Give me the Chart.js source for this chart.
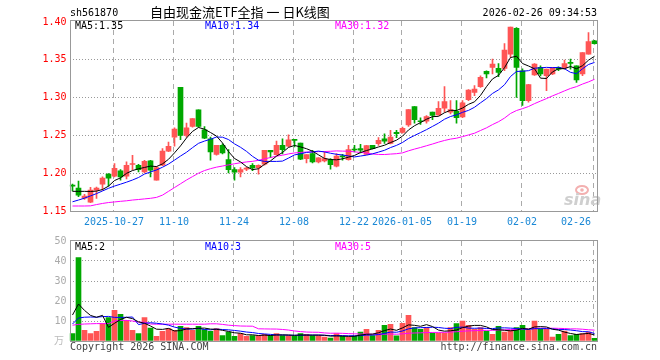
<!DOCTYPE html>
<html>
<head>
<meta charset="utf-8">
<script src="https://cdn.jsdelivr.net/npm/chart.js@4"></script>
<style>
html, body { margin: 0; padding: 0; background: #fff; }
#wrap { position: relative; width: 660px; height: 360px; }
canvas { position: absolute; left: 0; }
#kline { top: 0; }
#vol { top: 232px; }
</style>
</head>
<body>
<div id="wrap">
  <canvas id="kline" width="660" height="232"></canvas>
  <canvas id="vol" width="660" height="128"></canvas>
</div>
<script>
// trading days shown on the chart
const dates = [
  '2025-10-16','2025-10-17','2025-10-20','2025-10-21','2025-10-22','2025-10-23','2025-10-24','2025-10-27','2025-10-28','2025-10-29','2025-10-30','2025-10-31',
  '2025-11-03','2025-11-04','2025-11-05','2025-11-06','2025-11-07','2025-11-10','2025-11-11','2025-11-12','2025-11-13','2025-11-14','2025-11-17','2025-11-18','2025-11-19','2025-11-20','2025-11-21','2025-11-24','2025-11-25','2025-11-26','2025-11-27','2025-11-28',
  '2025-12-01','2025-12-02','2025-12-03','2025-12-04','2025-12-05','2025-12-08','2025-12-09','2025-12-10','2025-12-11','2025-12-12','2025-12-15','2025-12-16','2025-12-17','2025-12-18','2025-12-19','2025-12-22','2025-12-23','2025-12-24','2025-12-25','2025-12-26','2025-12-29','2025-12-30','2025-12-31',
  '2026-01-05','2026-01-06','2026-01-07','2026-01-08','2026-01-09','2026-01-12','2026-01-13','2026-01-14','2026-01-15','2026-01-16','2026-01-19','2026-01-20','2026-01-21','2026-01-22','2026-01-23','2026-01-26','2026-01-27','2026-01-28','2026-01-29','2026-01-30',
  '2026-02-02','2026-02-03','2026-02-04','2026-02-05','2026-02-06','2026-02-09','2026-02-10','2026-02-11','2026-02-12','2026-02-13','2026-02-24','2026-02-25','2026-02-26'
];

const openP = [1.1835,1.1803,1.1671,1.1618,1.1776,1.1855,1.1987,1.1961,1.2030,1.1961,1.2115,1.2105,1.2017,1.2162,1.1908,1.2105,1.2293,1.2478,1.3136,1.2500,1.2618,1.2838,1.2575,1.2456,1.2250,1.2368,1.2180,1.2048,1.2013,1.2053,1.2105,1.2074,1.2118,1.2303,1.2246,1.2368,1.2359,1.2443,1.2399,1.2193,1.2259,1.2149,1.2162,1.2180,1.2092,1.2228,1.2180,1.2316,1.2325,1.2250,1.2368,1.2391,1.2456,1.2394,1.2539,1.2539,1.2640,1.2882,1.2689,1.2688,1.2807,1.2772,1.2859,1.2807,1.2820,1.2745,1.2974,1.3070,1.3145,1.3346,1.3399,1.3386,1.3386,1.3575,1.3917,1.3355,1.2960,1.3299,1.3399,1.3289,1.3312,1.3399,1.3391,1.3465,1.3421,1.3312,1.3575,1.3750];
const highP = [1.1855,1.1895,1.1720,1.1812,1.1816,1.1951,1.1996,1.2127,1.2048,1.2149,1.2237,1.2118,1.2171,1.2171,1.2092,1.2325,1.2412,1.2601,1.3136,1.2662,1.2724,1.2838,1.2618,1.2478,1.2368,1.2390,1.2311,1.2074,1.2074,1.2078,1.2127,1.2110,1.2303,1.2303,1.2425,1.2456,1.2509,1.2447,1.2399,1.2246,1.2303,1.2206,1.2280,1.2193,1.2259,1.2250,1.2368,1.2368,1.2382,1.2368,1.2368,1.2470,1.2522,1.2566,1.2566,1.2610,1.2842,1.2882,1.2733,1.2763,1.2807,1.2947,1.3145,1.2960,1.2960,1.2960,1.3105,1.3158,1.3289,1.3355,1.3509,1.3451,1.3715,1.3934,1.3925,1.3380,1.3175,1.3451,1.3421,1.3377,1.3399,1.3407,1.3496,1.3509,1.3421,1.3597,1.3859,1.3759];
const lowP = [1.1767,1.1689,1.1654,1.1609,1.1667,1.1776,1.1829,1.1951,1.1908,1.1925,1.2048,1.2017,1.2004,1.1951,1.1908,1.2101,1.2285,1.2359,1.2443,1.2478,1.2610,1.2610,1.2456,1.2171,1.2237,1.2254,1.2004,1.1908,1.1951,1.2035,1.2035,1.1987,1.2105,1.2207,1.2237,1.2254,1.2346,1.2346,1.2180,1.2136,1.2136,1.2136,1.2149,1.2053,1.2084,1.2171,1.2171,1.2280,1.2268,1.2246,1.2320,1.2368,1.2394,1.2386,1.2470,1.2530,1.2618,1.2662,1.2645,1.2662,1.2707,1.2763,1.2807,1.2785,1.2662,1.2733,1.2960,1.3026,1.3136,1.3259,1.3312,1.3276,1.3355,1.3530,1.3004,1.2895,1.2938,1.3294,1.3288,1.3092,1.3303,1.3355,1.3377,1.3377,1.3202,1.3290,1.3575,1.3706];
const closeP = [1.1829,1.1711,1.1697,1.1776,1.1803,1.1934,1.1934,1.2066,1.1951,1.2105,1.2118,1.2048,1.2158,1.2039,1.2075,1.2293,1.2355,1.2583,1.2500,1.2601,1.2724,1.2618,1.2465,1.2280,1.2368,1.2267,1.2048,1.2013,1.2048,1.2057,1.2070,1.2105,1.2303,1.2281,1.2368,1.2311,1.2443,1.2434,1.2184,1.2246,1.2149,1.2202,1.2193,1.2114,1.2228,1.2215,1.2311,1.2307,1.2303,1.2364,1.2325,1.2434,1.2425,1.2478,1.2522,1.2592,1.2842,1.2707,1.2680,1.2750,1.2763,1.2859,1.2947,1.2842,1.2733,1.2930,1.3101,1.3114,1.3267,1.3312,1.3443,1.3333,1.3627,1.3934,1.3400,1.2960,1.3171,1.3443,1.3312,1.3377,1.3399,1.3377,1.3451,1.3451,1.3233,1.3597,1.3741,1.3715];

const ma5 = [1.1760,1.1760,1.1760,1.1758,1.1763,1.1784,1.1829,1.1903,1.1938,1.1998,1.2035,1.2058,1.2076,1.2094,1.2088,1.2123,1.2184,1.2269,1.2361,1.2466,1.2553,1.2605,1.2582,1.2538,1.2491,1.2400,1.2286,1.2195,1.2149,1.2087,1.2047,1.2059,1.2117,1.2163,1.2225,1.2274,1.2341,1.2367,1.2348,1.2324,1.2291,1.2243,1.2195,1.2181,1.2177,1.2190,1.2212,1.2235,1.2273,1.2300,1.2322,1.2347,1.2370,1.2405,1.2437,1.2490,1.2572,1.2628,1.2669,1.2714,1.2748,1.2752,1.2800,1.2832,1.2829,1.2862,1.2911,1.2944,1.3029,1.3145,1.3247,1.3294,1.3396,1.3530,1.3547,1.3451,1.3418,1.3382,1.3257,1.3253,1.3340,1.3382,1.3383,1.3411,1.3382,1.3422,1.3495,1.3547];
const ma10 = [1.1622,1.1645,1.1670,1.1700,1.1730,1.1765,1.1800,1.1830,1.1855,1.1881,1.1910,1.1943,1.1989,1.2016,1.2043,1.2079,1.2121,1.2173,1.2227,1.2277,1.2338,1.2395,1.2425,1.2449,1.2479,1.2476,1.2445,1.2388,1.2343,1.2289,1.2223,1.2172,1.2156,1.2156,1.2156,1.2160,1.2200,1.2242,1.2256,1.2275,1.2282,1.2292,1.2281,1.2264,1.2250,1.2241,1.2228,1.2215,1.2227,1.2239,1.2256,1.2279,1.2303,1.2339,1.2368,1.2406,1.2459,1.2499,1.2537,1.2576,1.2619,1.2662,1.2714,1.2750,1.2772,1.2805,1.2831,1.2872,1.2931,1.2987,1.3055,1.3102,1.3170,1.3279,1.3346,1.3349,1.3356,1.3389,1.3394,1.3400,1.3396,1.3400,1.3382,1.3334,1.3317,1.3381,1.3438,1.3465];
const ma30 = [1.1566,1.1566,1.1566,1.1568,1.1585,1.1600,1.1612,1.1620,1.1628,1.1635,1.1645,1.1652,1.1660,1.1668,1.1680,1.1710,1.1760,1.1810,1.1860,1.1910,1.1955,1.2000,1.2035,1.2060,1.2080,1.2095,1.2110,1.2125,1.2138,1.2149,1.2157,1.2170,1.2190,1.2207,1.2226,1.2238,1.2255,1.2268,1.2275,1.2280,1.2281,1.2286,1.2287,1.2290,1.2295,1.2292,1.2291,1.2282,1.2275,1.2267,1.2254,1.2248,1.2247,1.2253,1.2258,1.2269,1.2296,1.2319,1.2340,1.2363,1.2386,1.2411,1.2433,1.2451,1.2463,1.2484,1.2506,1.2529,1.2565,1.2600,1.2643,1.2681,1.2729,1.2790,1.2829,1.2854,1.2882,1.2920,1.2954,1.2987,1.3023,1.3055,1.3089,1.3121,1.3145,1.3179,1.3208,1.3242];

// volume in 万 (10k)
const volume = [3.7,41.7,5.3,3.7,4.8,8.7,11.7,15.3,13.3,10.3,5.3,3.7,11.7,6.5,2.3,4.8,6.2,5.3,7.3,6.7,5.3,7.3,5.7,4.8,6.2,2.7,4.5,2.3,3.7,2.3,2.7,2.7,3.3,2.7,3.7,2.7,2.7,2.3,3.7,3.3,2.7,2.7,2.0,1.5,3.7,2.3,2.0,2.3,4.5,5.8,2.7,5.3,7.8,8.3,2.6,8.8,12.8,6.7,5.8,6.8,4.0,4.0,4.0,6.7,8.7,10.0,7.8,5.8,6.7,5.0,3.3,7.3,4.5,5.3,6.7,7.8,5.3,10.0,6.2,5.8,2.0,3.3,5.0,2.7,3.3,3.7,4.5,1.3];
const volMa5 = [13.0,18.5,15.3,12.8,11.84,12.84,6.84,8.84,10.76,11.86,11.18,9.58,8.86,7.5,5.9,5.8,6.3,5.02,5.18,6.06,6.16,6.38,6.46,5.96,5.86,5.34,4.78,4.1,3.88,3.1,3.1,2.74,2.94,2.74,3.02,3.02,3.02,2.82,3.02,2.94,2.94,2.94,2.88,2.44,2.52,2.44,2.3,2.36,2.96,3.38,3.46,4.12,5.22,5.98,5.34,6.56,8.06,7.84,7.34,8.18,7.22,5.46,4.92,5.1,5.48,6.68,7.44,7.8,7.8,7.06,5.72,5.62,5.36,5.08,5.42,6.32,5.92,7.02,7.2,7.02,5.86,5.46,4.46,3.76,3.26,3.54,3.78,3.04];
const volMa10 = [8.5,11.5,11.9,12.0,11.9,12.2,12.3,11.8,11.8,11.85,12.01,8.21,8.85,9.13,8.88,8.49,7.94,6.94,6.34,5.98,5.98,6.34,5.74,5.57,5.96,5.75,5.58,5.28,4.92,4.48,4.22,3.76,3.52,3.31,3.06,3.06,2.88,2.88,2.88,2.98,2.98,2.98,2.85,2.73,2.73,2.69,2.62,2.62,2.70,2.95,2.95,3.21,3.79,4.47,4.36,5.01,6.09,6.53,6.66,6.76,6.89,6.76,6.38,6.22,6.83,6.95,6.45,6.36,6.45,6.27,6.2,6.53,6.58,6.44,6.24,6.02,5.77,6.19,6.14,6.22,6.09,5.69,5.74,5.48,5.14,4.7,4.62,3.75];
const volMa30 = [7.9,8.3,8.5,8.6,8.7,8.7,8.7,10.0,10.3,10.3,10.0,9.4,9.4,8.5,8.4,8.4,8.4,8.4,8.4,8.4,8.4,8.4,8.4,8.6,8.6,8.3,7.9,7.7,7.5,7.44,7.40,6.10,6.04,6.00,5.97,5.77,5.47,5.03,4.71,4.48,4.39,4.36,4.04,3.87,3.92,3.83,3.69,3.59,3.50,3.47,3.38,3.32,3.39,3.50,3.38,3.59,3.86,4.01,4.08,4.23,4.27,4.32,4.34,4.47,4.64,4.88,5.05,5.17,5.27,5.33,5.35,5.50,5.58,5.71,5.81,5.99,6.10,6.36,6.42,6.42,6.39,6.33,6.23,6.05,6.07,5.89,5.61,5.43];

// x axis labels
const tickDates = ['2025-10-27','2025-11-10','2025-11-24','2025-12-08','2025-12-22','2026-01-05','2026-01-19','2026-02-02','2026-02-26'];
const tickTexts = ['2025-10-27','11-10','11-24','12-08','12-22','2026-01-05','01-19','02-02','02-26'];

const RED = '#ff5555';
const GREEN = '#00a800';
const MONO = "'DejaVu Sans Mono', monospace";
const candleColors = dates.map((d, i) => closeP[i] >= openP[i] ? RED : GREEN);

Chart.defaults.font.family = MONO;
Chart.defaults.font.size = 10;

function maLine(label, data, color) {
    return {
        type: 'line', label: label, data: data,
        borderColor: color, borderWidth: 1,
        pointRadius: 0, tension: 0, order: 0
    };
}

// dashed vertical lines at the labelled days
function drawVGrid(chart, top, bottom) {
    const ctx = chart.ctx;
    const xs = chart.scales.x;
    ctx.save();
    ctx.strokeStyle = '#aaa';
    ctx.lineWidth = 1;
    ctx.setLineDash([5, 4]);
    tickDates.forEach(d => {
        const x = Math.round(xs.getPixelForValue(dates.indexOf(d))) - 1.5;
        ctx.beginPath();
        ctx.moveTo(x, top);
        ctx.lineTo(x, bottom);
        ctx.stroke();
    });
    ctx.restore();
}

function drawFrame(ctx, top, bottom) {
    ctx.save();
    ctx.strokeStyle = '#999';
    ctx.lineWidth = 1;
    ctx.strokeRect(70.5, top, 527, bottom - top);
    ctx.restore();
}

function drawMaLabels(ctx, y, texts) {
    ctx.save();
    ctx.font = '10px ' + MONO;
    ctx.textBaseline = 'middle';
    ctx.textAlign = 'left';
    const colors = ['#000', '#0000ff', '#ff00ff'];
    const xs = [75, 205, 335];
    texts.forEach((t, i) => {
        ctx.fillStyle = colors[i];
        ctx.fillText(t, xs[i], y);
    });
    ctx.restore();
}

const klineDecor = {
    id: 'klineDecor',
    beforeDatasetsDraw(chart) {
        const ctx = chart.ctx;
        drawVGrid(chart, 21, 211);
        // sina watermark
        ctx.save();
        ctx.strokeStyle = '#f3b0b0';
        ctx.lineWidth = 2;
        ctx.beginPath();
        ctx.ellipse(582, 190, 6, 4, 0, 0, Math.PI * 2);
        ctx.stroke();
        ctx.fillStyle = '#f3b0b0';
        ctx.beginPath();
        ctx.arc(582, 190, 1.8, 0, Math.PI * 2);
        ctx.fill();
        ctx.font = "italic bold 16px 'DejaVu Sans'";
        ctx.fillStyle = '#cfcfcf';
        ctx.textBaseline = 'middle';
        ctx.fillText('sina', 564, 201);
        ctx.restore();
    },
    afterDraw(chart) {
        const ctx = chart.ctx;
        const xs = chart.scales.x;
        drawFrame(ctx, 20.5, 211.5);
        ctx.save();
        ctx.textBaseline = 'middle';
        ctx.font = '10px ' + MONO;
        ctx.fillStyle = '#000';
        ctx.textAlign = 'left';
        ctx.fillText('sh561870', 70, 13);
        ctx.textAlign = 'right';
        ctx.fillText('2026-02-26 09:34:53', 597, 13);
        ctx.font = "13px 'Noto Sans CJK SC'";
        ctx.textAlign = 'left';
        ctx.fillText('自由现金流ETF全指 一 日K线图', 150, 12);
        // x axis labels
        ctx.font = '10px ' + MONO;
        ctx.fillStyle = '#1a88d6';
        ctx.textAlign = 'center';
        tickDates.forEach((d, k) => {
            let x = Math.round(xs.getPixelForValue(dates.indexOf(d))) - 1;
            const w = ctx.measureText(tickTexts[k]).width;
            if (x + w / 2 > 591) x = 591 - w / 2;
            ctx.fillText(tickTexts[k], x, 222);
        });
        ctx.restore();
        drawMaLabels(ctx, 26, ['MA5:1.35', 'MA10:1.34', 'MA30:1.32']);
    }
};

const volDecor = {
    id: 'volDecor',
    beforeDatasetsDraw(chart) {
        drawVGrid(chart, 9, 109);
    },
    afterDraw(chart) {
        const ctx = chart.ctx;
        drawFrame(ctx, 8.5, 109.5);
        drawMaLabels(ctx, 15, ['MA5:2', 'MA10:3', 'MA30:5']);
        ctx.save();
        ctx.textBaseline = 'middle';
        ctx.font = "10px 'Noto Sans CJK SC'";
        ctx.fillStyle = '#bbb';
        ctx.textAlign = 'right';
        ctx.fillText('万', 64, 108);
        ctx.font = '10px ' + MONO;
        ctx.fillStyle = '#444';
        ctx.textAlign = 'left';
        ctx.fillText('Copyright 2026 SINA.COM', 70, 115);
        ctx.textAlign = 'right';
        ctx.fillText('http://finance.sina.com.cn', 597, 115);
        ctx.restore();
    }
};

function hideEdges(lo, hi) {
    return ctx => {
        const v = ctx.tick ? ctx.tick.value : null;
        if (v === null || Math.abs(v - lo) < 1e-6 || Math.abs(v - hi) < 1e-6) return 'rgba(0,0,0,0)';
        return '#999';
    };
}

new Chart(document.getElementById('kline'), {
    type: 'bar',
    data: {
        labels: dates,
        datasets: [
            maLine('MA5', ma5, '#000000'),
            maLine('MA10', ma10, '#0000ff'),
            maLine('MA30', ma30, '#ff00ff'),
            {
                label: 'body',
                data: dates.map((d, i) => [openP[i], closeP[i]]),
                backgroundColor: candleColors,
                barThickness: 5,
                minBarLength: 1,
                grouped: false,
                order: 1
            },
            {
                label: 'wick',
                data: dates.map((d, i) => [lowP[i], highP[i]]),
                backgroundColor: candleColors,
                barThickness: 1,
                grouped: false,
                order: 2
            }
        ]
    },
    options: {
        responsive: false,
        animation: false,
        devicePixelRatio: 1,
        layout: { padding: { left: 0.5, right: 62.5, top: 22, bottom: 21 } },
        plugins: { legend: { display: false }, tooltip: { enabled: false } },
        scales: {
            x: { display: false, offset: true },
            y: {
                min: 1.15,
                max: 1.40,
                afterFit: s => { s.width = 69; },
                ticks: {
                    stepSize: 0.05,
                    color: '#ff0000',
                    padding: 3,
                    callback: v => Number(v).toFixed(2)
                },
                grid: { drawTicks: false, color: hideEdges(1.15, 1.40) },
                border: { display: false, dash: [1, 2] }
            }
        }
    },
    plugins: [klineDecor]
});

new Chart(document.getElementById('vol'), {
    type: 'bar',
    data: {
        labels: dates,
        datasets: [
            maLine('MA5', volMa5, '#000000'),
            maLine('MA10', volMa10, '#0000ff'),
            maLine('MA30', volMa30, '#ff00ff'),
            {
                label: 'volume',
                data: volume,
                backgroundColor: candleColors,
                barThickness: 5,
                order: 1
            }
        ]
    },
    options: {
        responsive: false,
        animation: false,
        devicePixelRatio: 1,
        layout: { padding: { left: 0.5, right: 62.5, top: 9, bottom: 19 } },
        plugins: { legend: { display: false }, tooltip: { enabled: false } },
        scales: {
            x: { display: false, offset: true },
            y: {
                min: 0,
                max: 50,
                afterFit: s => { s.width = 69; },
                ticks: {
                    stepSize: 10,
                    color: '#aaa',
                    padding: 3,
                    callback: v => v === 0 ? '' : v
                },
                grid: { drawTicks: false, color: hideEdges(0, 50) },
                border: { display: false, dash: [1, 2] }
            }
        }
    },
    plugins: [volDecor]
});
</script>
</body>
</html>
